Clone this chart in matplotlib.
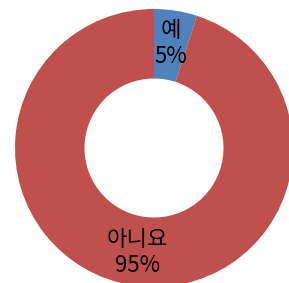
import matplotlib
matplotlib.use("Agg")
import matplotlib.pyplot as plt

plt.rcParams['font.family'] = ['Noto Sans CJK KR', 'DejaVu Sans']

categories = ["예", "아니요"]
values = [5, 95]
colors = ["#4F81BD", "#C0504D"]

fig = plt.figure(figsize=(2.89, 2.83), dpi=100)
ax = fig.add_axes([0, 0, 1, 1])

labels = [f"{c}\n{v}%" for c, v in zip(categories, values)]
wedges, texts = ax.pie(values, colors=colors, startangle=90, counterclock=False,
                       radius=1.0, labels=labels, labeldistance=0.76,
                       wedgeprops=dict(width=0.5, linewidth=0),
                       textprops=dict(fontsize=16, color="black", linespacing=1.2))
for t in texts:
    t.set_horizontalalignment("center")
    t.set_verticalalignment("center")

# centre ~ (154, 148) px, radius ~ 139 px
ax.set_xlim(-154 / 139, (289 - 154) / 139)
ax.set_ylim(-(283 - 148) / 139, 148 / 139)
ax.set_aspect("equal")
ax.axis("off")

fig.savefig("out.png", dpi=100)
